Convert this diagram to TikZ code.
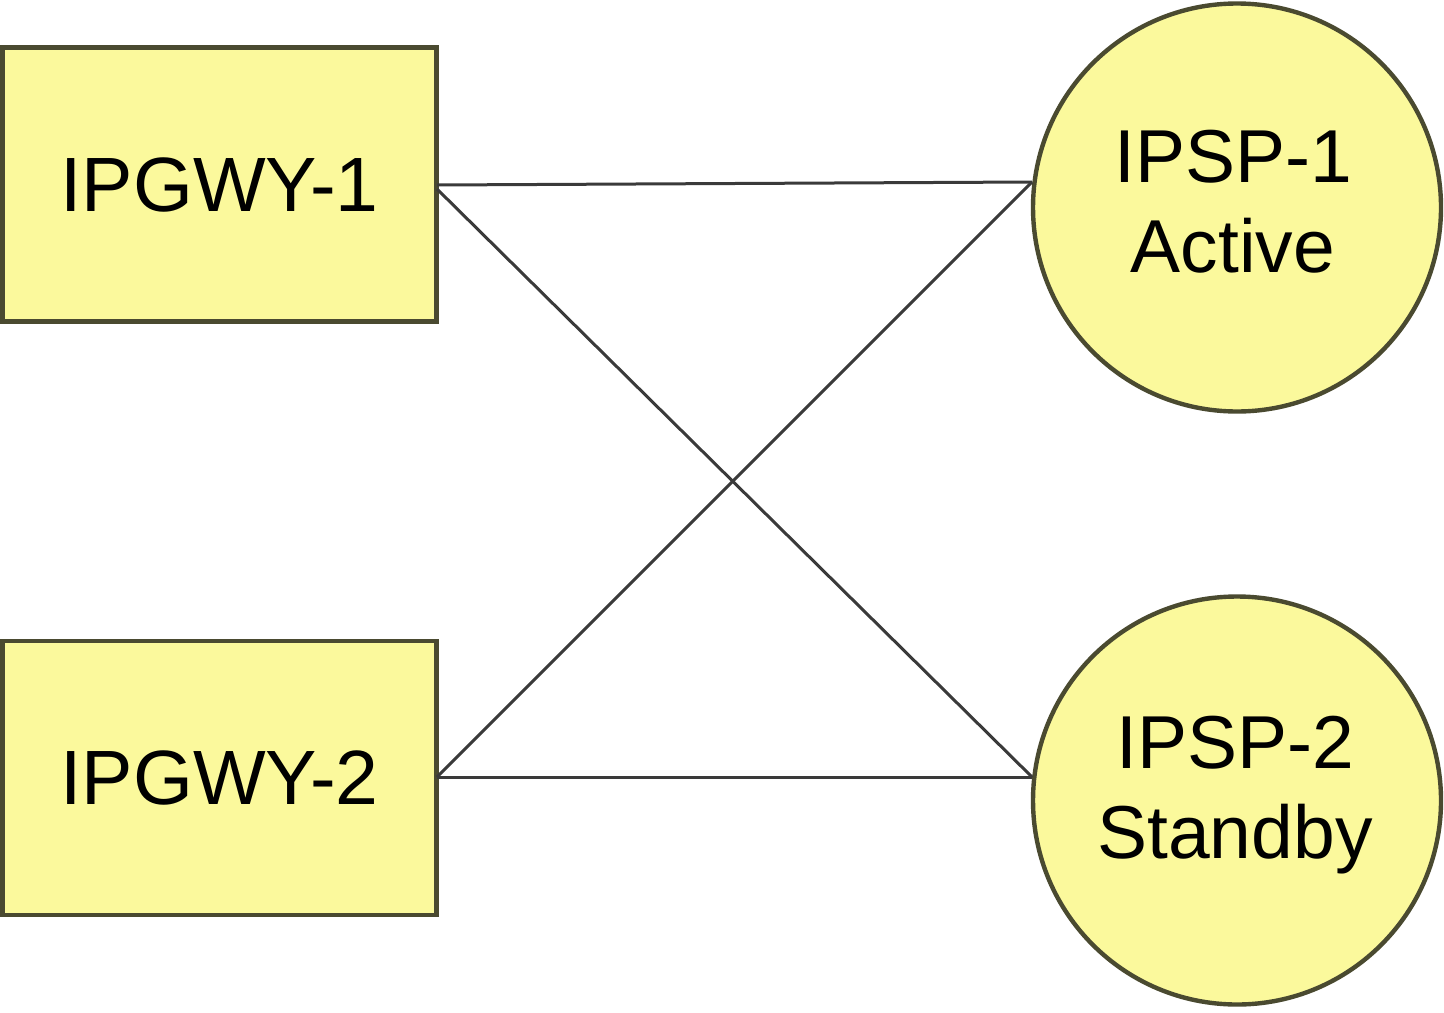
\documentclass[tikz,border=0pt]{standalone}
\usepackage{fontspec}
\setmainfont{Liberation Sans}
\definecolor{fillY}{HTML}{FBF99C}
\definecolor{edgeO}{HTML}{4A4A30}
\definecolor{lineG}{HTML}{3A3A3A}
\begin{document}
\begin{tikzpicture}[x=0.5pt,y=-0.5pt,
  gwbox/.style={draw=edgeO,fill=fillY,line width=2.4pt,minimum width=217pt,minimum height=137pt,inner sep=0pt,font=\fontsize{38.5}{44}\selectfont},
  spcirc/.style={circle,draw=edgeO,fill=fillY,line width=2.2pt,minimum size=204pt,inner sep=0pt,align=center,font=\fontsize{37.5}{45}\selectfont},
  link/.style={draw=lineG,line width=1.5pt}]
\useasboundingbox (0,0) rectangle (1444,1012);
\node[gwbox] (g1) at (219.5,184.5) {IPGWY-1};
\node[gwbox] (g2) at (219.5,778) {IPGWY-2};
\node[spcirc] (s1) at (1237,207.5) {};
\node[spcirc] (s2) at (1237,800.5) {};
\node[align=center,font=\fontsize{37.5}{45}\selectfont] (t1) at (1233,202) {IPSP-1\\Active};
\node[align=center,font=\fontsize{37.5}{45}\selectfont] (t2) at (1235,795) {IPSP-2\\Standby};
\coordinate (g1a) at (437,185);
\coordinate (g1b) at (437,189);
\coordinate (g2a) at (437,777);
\coordinate (s1a) at (1032,182);
\coordinate (s2a) at (1032,777);
\draw[link] (g1a) -- (s1a);
\draw[link] (g1b) -- (s2a);
\draw[link] (g2a) -- (s1a);
\draw[link] (g2a) -- (s2a);
\end{tikzpicture}
\end{document}
